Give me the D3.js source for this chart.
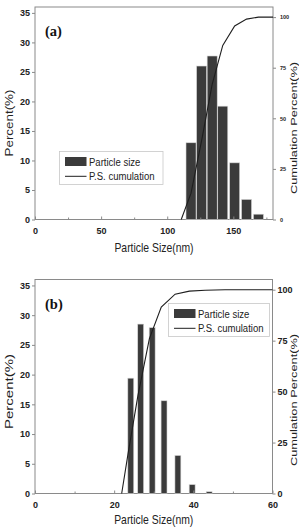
<!DOCTYPE html>
<html><head><meta charset="utf-8">
<script src="https://cdn.jsdelivr.net/npm/d3@7"></script>
<style>
html,body{margin:0;padding:0;background:#fff;}
svg{display:block;}
</style></head>
<body>
<svg id="chart" width="299" height="527"></svg>
<script>
// ---------- data ----------
const panelLabels = ["(a)", "(b)"];
const legendLabels = ["Particle size", "P.S. cumulation"];
const xTitle = "Particle Size(nm)";
const yTitle = "Percent(%)";
const y2Title = "Cumulation Percent(%)";

const sizesA = [118, 126, 134, 142, 151, 160, 169];
const percentA = [13.0, 26.0, 27.7, 19.2, 9.6, 3.4, 0.9];
const cumXA = [110.6, 118, 126, 134, 142, 151, 160, 169, 180];
const cumYA = [0, 13, 39, 66.8, 86, 95.6, 99, 100, 100];
const xTicksA = [0, 50, 100, 150];
const xMinorA = [25, 75, 125, 175];

const sizesB = [24.2, 26.7, 29.6, 32.6, 36.1, 39.7, 44.0];
const percentB = [19.4, 28.5, 27.9, 15.6, 6.4, 1.5, 0.3];
const cumXB = [21.9, 23.5, 26, 28.9, 31.9, 35.4, 39, 43, 48, 60];
const cumYB = [0, 19.4, 48, 76, 91.5, 97.8, 99.3, 99.7, 100, 100];
const xTicksB = [0, 20, 40, 60];
const xMinorB = [10, 30, 50];

const yTicks = [0, 5, 10, 15, 20, 25, 30, 35];
const y2Ticks = [0, 25, 50, 75, 100];

// ---------- layout ----------
const panels = [
  {label: panelLabels[0], sizes: sizesA, pct: percentA, cx: cumXA, cy: cumYA,
   xDomain: [0, 180], xTicks: xTicksA, xMinor: xMinorA, barW: 7.6,
   left: 35, right: 273, top: 7, bottom: 219.5,
   legend: {x: 59.5, y: 151.5, w: 103.5, h: 33},
   y2Font: 5.5, y2Pad: 4, yTitleSize: 13.4, yTitleY: 123, y2TitleY: 128,
   xTitleY: 252},
  {label: panelLabels[1], sizes: sizesB, pct: percentB, cx: cumXB, cy: cumYB,
   xDomain: [0, 60], xTicks: xTicksB, xMinor: xMinorB, barW: 1.5,
   left: 35, right: 272.5, top: 279.5, bottom: 493.5,
   legend: {x: 168.5, y: 303.5, w: 101, h: 33},
   y2Font: 9, y2Pad: 2, yTitleSize: 15, yTitleY: 391.5, y2TitleY: 400,
   xTitleY: 524}
];

const svg = d3.select("#chart");
const axisColor = "#8a8a8a";

panels.forEach(p => {
  const g = svg.append("g");
  const x = d3.scaleLinear().domain(p.xDomain).range([p.left, p.right]);
  const y = d3.scaleLinear().domain([0, 36]).range([p.bottom, p.top]);
  const y2 = d3.scaleLinear().domain([0, 105]).range([p.bottom, p.top]);

  // frame
  g.append("rect").attr("x", p.left).attr("y", p.top)
    .attr("width", p.right - p.left).attr("height", p.bottom - p.top)
    .attr("fill", "none").attr("stroke", axisColor).attr("stroke-width", 1);

  // bars
  g.selectAll("rect.bar").data(p.sizes).join("rect").attr("class", "bar")
    .attr("x", d => x(d - p.barW / 2))
    .attr("width", d => x(d + p.barW / 2) - x(d - p.barW / 2))
    .attr("y", (d, i) => y(p.pct[i]))
    .attr("height", (d, i) => y(0) - y(p.pct[i]))
    .attr("fill", "#3b3b3b").attr("stroke", "#d8d8d8").attr("stroke-width", 0.6);

  // cumulative line
  const line = d3.line().x(d => x(d[0])).y(d => y2(d[1]));
  g.append("path").datum(p.cx.map((v, i) => [v, p.cy[i]]))
    .attr("d", line).attr("fill", "none").attr("stroke", "#1e1e1e").attr("stroke-width", 1.1);

  // axes
  const styleAxis = (sel, fs) => {
    sel.select(".domain").remove();
    sel.selectAll("line").attr("stroke", axisColor);
    sel.selectAll("text").attr("fill", "#222").attr("font-weight", "bold")
      .attr("font-family", "Liberation Sans, Arial, sans-serif").attr("font-size", fs);
  };
  g.append("g").attr("transform", `translate(${p.left},0)`)
    .call(d3.axisLeft(y).tickValues(yTicks).tickSize(3).tickPadding(2))
    .call(s => styleAxis(s, 9));
  g.append("g").attr("transform", `translate(${p.right},0)`)
    .call(d3.axisRight(y2).tickValues(y2Ticks).tickSize(3).tickPadding(p.y2Pad))
    .call(s => styleAxis(s, p.y2Font));
  g.append("g").attr("transform", `translate(0,${p.bottom})`)
    .call(d3.axisBottom(x).tickValues(p.xTicks).tickSize(-3).tickPadding(8))
    .call(s => styleAxis(s, 9));
  g.append("g").attr("transform", `translate(0,${p.bottom})`)
    .call(d3.axisBottom(x).tickValues(p.xMinor).tickSize(-2).tickFormat(""))
    .call(s => styleAxis(s, 9));

  // panel label
  g.append("text").attr("x", p.left + 10).attr("y", p.top + 29)
    .attr("font-family", "Liberation Serif, Times New Roman, serif")
    .attr("font-weight", "bold").attr("font-size", 14.5).attr("fill", "#111")
    .text(p.label);

  // legend
  const L = p.legend;
  const lg = g.append("g").attr("transform", `translate(${L.x},${L.y})`);
  lg.append("rect").attr("width", L.w).attr("height", L.h)
    .attr("fill", "#fff").attr("stroke", "#c8c8c8").attr("stroke-width", 0.8);
  lg.append("rect").attr("x", 5.5).attr("y", 5.5).attr("width", 21.5).attr("height", 9)
    .attr("fill", "#3b3b3b");
  lg.append("line").attr("x1", 5.5).attr("x2", 27).attr("y1", 24.8).attr("y2", 24.8)
    .attr("stroke", "#1e1e1e").attr("stroke-width", 1);
  legendLabels.forEach((t, i) => {
    lg.append("text").attr("transform", `translate(29.5,${14 + i * 14.5}) scale(0.83,1)`)
      .attr("font-family", "Liberation Sans, Arial, sans-serif").attr("font-size", 11.5)
      .attr("fill", "#222").text(t);
  });

  // titles
  g.append("text").attr("transform", `translate(${(p.left + p.right) / 2},${p.xTitleY}) scale(0.8,1)`)
    .attr("text-anchor", "middle").attr("font-family", "Liberation Sans, Arial, sans-serif")
    .attr("font-size", 13).attr("fill", "#222").text(xTitle);
  g.append("text").attr("transform", `translate(13,${p.yTitleY}) scale(0.78,1) rotate(-90)`)
    .attr("text-anchor", "middle").attr("font-family", "Liberation Sans, Arial, sans-serif")
    .attr("font-size", p.yTitleSize).attr("fill", "#222").text(yTitle);
  g.append("text").attr("transform", `translate(296.5,${p.y2TitleY}) scale(0.78,1) rotate(-90)`)
    .attr("text-anchor", "middle").attr("font-family", "Liberation Sans, Arial, sans-serif")
    .attr("font-size", 12.8).attr("fill", "#222").text(y2Title);
});
</script>
</body></html>
